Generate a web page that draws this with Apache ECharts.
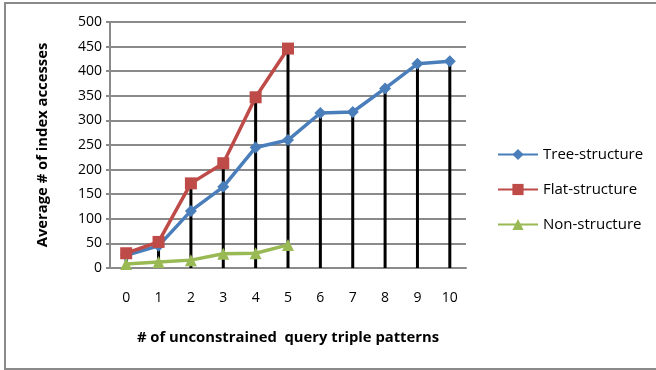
<!DOCTYPE html>
<html><head><meta charset="utf-8">
<script src="https://cdn.jsdelivr.net/npm/echarts@6/dist/echarts.min.js"></script>
<style>html,body{margin:0;padding:0;background:#fff}#c{width:656px;height:370px}</style>
</head><body><div id="c"></div>
<script>
const categories = ['0','1','2','3','4','5','6','7','8','9','10'];
const treeStructure = [26, 45, 116, 165, 245, 260, 315, 317, 365, 415, 420];
const flatStructure = [30, 53, 172, 213, 347, 446];
const nonStructure = [8, 12, 16, 29, 30, 47];
const dropValues = categories.map((c, i) => Math.max(treeStructure[i] ?? 0, flatStructure[i] ?? 0, nonStructure[i] ?? 0));

const font = '"Open Sans", Lato, sans-serif';
const chart = echarts.init(document.getElementById('c'));
chart.setOption({
  animation: false,
  textStyle: { fontFamily: font },
  graphic: [{ type: 'rect', shape: { x: 5, y: 3, width: 660, height: 366 }, style: { fill: 'none', stroke: '#8a8a8a', lineWidth: 2 }, silent: true }],
  grid: { left: 110, right: 190, top: 22, bottom: 102 },
  legend: {
    orient: 'vertical', left: 492, top: 142, itemWidth: 40, itemHeight: 14, itemGap: 20,
    data: ['Tree-structure', 'Flat-structure', 'Non-structure'],
    textStyle: { fontFamily: font, fontSize: 15, color: '#000' }
  },
  xAxis: {
    type: 'category', data: categories, boundaryGap: true,
    name: '# of unconstrained  query triple patterns', nameLocation: 'middle', nameGap: 62,
    nameTextStyle: { fontFamily: font, fontSize: 14.8, fontWeight: 'bold', color: '#000' },
    axisLine: { lineStyle: { color: '#8a8a8a', width: 2 } },
    axisTick: { show: false },
    axisLabel: { color: '#000', fontSize: 14, margin: 23, fontFamily: font }
  },
  yAxis: {
    type: 'value', min: 0, max: 500, interval: 50,
    name: 'Average # of index accesses', nameLocation: 'middle', nameGap: 60,
    nameTextStyle: { fontFamily: font, fontSize: 14.8, fontWeight: 'bold', color: '#000' },
    axisLine: { show: true, lineStyle: { color: '#8a8a8a', width: 2 } },
    axisTick: { show: true, length: 4, lineStyle: { color: '#8a8a8a', width: 2 } },
    splitLine: { lineStyle: { color: '#8a8a8a', width: 2 } },
    axisLabel: { color: '#000', fontSize: 14, margin: 8, fontFamily: font }
  },
  series: [
    { name: 'drop', type: 'bar', data: dropValues, barWidth: 3, itemStyle: { color: '#000' }, z: 1, silent: true },
    { name: 'Tree-structure', type: 'line', data: treeStructure, symbol: 'diamond', symbolSize: 12,
      lineStyle: { color: '#4a7ebb', width: 3.5 }, itemStyle: { color: '#4a7ebb' }, z: 3 },
    { name: 'Flat-structure', type: 'line', data: flatStructure, symbol: 'rect', symbolSize: 12,
      lineStyle: { color: '#be4b48', width: 3.5 }, itemStyle: { color: '#be4b48' }, z: 4 },
    { name: 'Non-structure', type: 'line', data: nonStructure, symbol: 'triangle', symbolSize: 12,
      lineStyle: { color: '#98b954', width: 3.5 }, itemStyle: { color: '#98b954' }, z: 5 }
  ]
});
</script></body></html>
